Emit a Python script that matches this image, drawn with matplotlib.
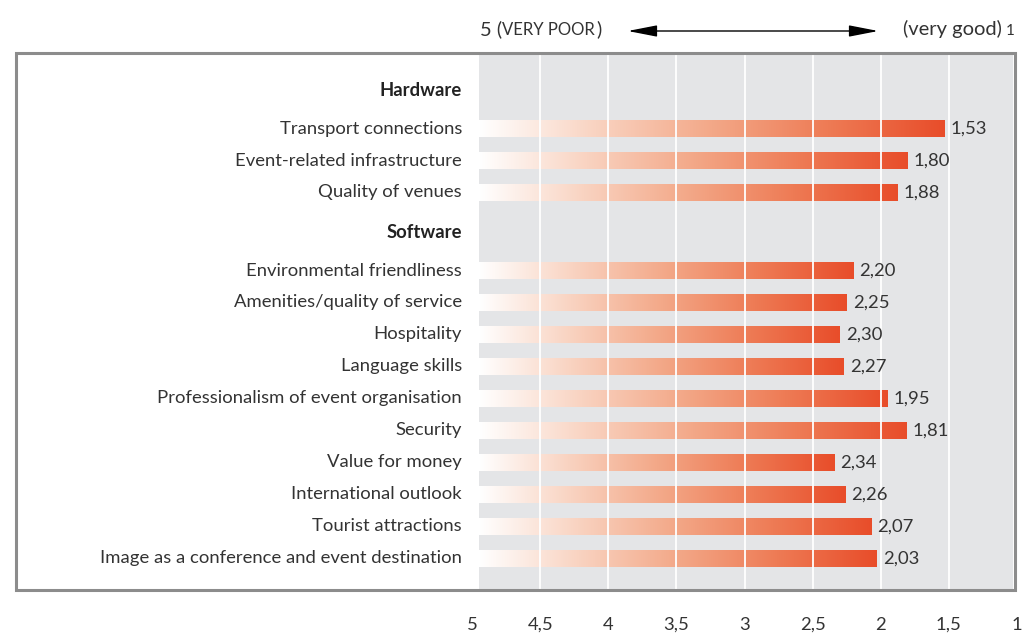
import numpy as np
import matplotlib
matplotlib.use("Agg")
import matplotlib.pyplot as plt
from matplotlib.colors import LinearSegmentedColormap
from matplotlib.patches import Rectangle, FancyArrowPatch

# ---- data -------------------------------------------------------------
hardware_labels = ["Transport connections", "Event-related infrastructure",
                   "Quality of venues"]
hardware_values = [1.53, 1.80, 1.88]

software_labels = ["Environmental friendliness", "Amenities/quality of service",
                   "Hospitality", "Language skills",
                   "Professionalism of event organisation", "Security",
                   "Value for money", "International outlook",
                   "Tourist attractions",
                   "Image as a conference and event destination"]
software_values = [2.20, 2.25, 2.30, 2.27, 1.95, 1.81, 2.34, 2.26, 2.07, 2.03]

group_titles = ["Hardware", "Software"]
tick_values = [5, 4.5, 4, 3.5, 3, 2.5, 2, 1.5, 1]
tick_labels = ["5", "4,5", "4", "3,5", "3", "2,5", "2", "1,5", "1"]

# ---- style ------------------------------------------------------------
plt.rcParams['font.family'] = ['Lato', 'DejaVu Sans']
TEXT = "#333333"
BG = "#e4e5e7"
FRAME = "#8c8c8c"
FS = 13.3
W, H = 1034, 642
cmap = LinearSegmentedColormap.from_list(
    "fade", [(0.0, "#ffffff"), (0.25, "#f9d3c1"), (0.5, "#f3a888"),
             (0.75, "#ee7b55"), (1.0, "#e84d2a")])

fig = plt.figure(figsize=(W / 100, H / 100), dpi=100)


def fx(px):
    return px / W


def fy(py):
    return 1 - py / H


# plotting area: value 5 at the left edge, 1 at the right edge
ax_left, ax_right, ax_top, ax_bot = 472, 1017, 55, 589
ax = fig.add_axes([fx(ax_left), fy(ax_bot), fx(ax_right - ax_left),
                   (ax_bot - ax_top) / H])
ax.patch.set_visible(False)
for s in ax.spines.values():
    s.set_visible(False)

# row layout: one unit per row, extra gap before each group heading
heading_gap = 1.2
group_gap = 1.44
label_rows = []
head_rows = []
cur = 0.0
for gi, (labs, vals) in enumerate([(hardware_labels, hardware_values),
                                   (software_labels, software_values)]):
    if gi > 0:
        cur += group_gap
    head_rows.append(cur - heading_gap)
    for lab, v in zip(labs, vals):
        label_rows.append((lab, v, cur))
        cur += 1.0

ymin = -2.3
ymax = label_rows[-1][2] + 0.96

# grey background band
unit_px = (ax_right - ax_left) / 4
x_bg_left = 5 - (479 - ax_left) / unit_px
x_bg_right = 1 + (ax_right - 1013) / unit_px
ax.add_patch(Rectangle((x_bg_left, ymin), x_bg_right - x_bg_left, ymax - ymin,
                       facecolor=BG, edgecolor="none", zorder=0))

# gradient bars with value labels and category labels
bar_h = 0.53
grad = np.linspace(0, 1, 256).reshape(1, -1)
lab_off = -(ax_left - 462)
for lab, v, y in label_rows:
    ax.imshow(grad, cmap=cmap, aspect="auto", interpolation="bilinear",
              extent=(x_bg_left, v, y + bar_h / 2, y - bar_h / 2), zorder=1)
    ax.annotate(f"{v:.2f}".replace(".", ","), xy=(v, y),
                xytext=(6, 0), textcoords="offset pixels",
                ha="left", va="center", fontsize=FS, color=TEXT, zorder=4)
    ax.annotate(lab, xy=(0, y), xycoords=("axes fraction", "data"),
                xytext=(lab_off, 0), textcoords="offset pixels",
                ha="right", va="center", fontsize=FS, color=TEXT)

for title, y in zip(group_titles, head_rows):
    ax.annotate(title, xy=(0, y), xycoords=("axes fraction", "data"),
                xytext=(lab_off, 0), textcoords="offset pixels",
                ha="right", va="center", fontsize=FS, color="#222222",
                fontweight="bold")

ax.set_ylim(ymax, ymin)
ax.set_xlim(5, 1)

# white vertical grid drawn on top of the bars
for t in tick_values[1:-1]:
    ax.axvline(t, color="white", lw=1.3, zorder=3)

ax.set_xticks(tick_values)
ax.set_xticklabels(tick_labels, fontsize=FS, color=TEXT)
ax.tick_params(axis="x", length=0, pad=20)
ax.set_yticks([])

# outer frame
fig.patches.append(Rectangle((fx(16), fy(590)), fx(1015 - 16), (590 - 53) / H,
                             transform=fig.transFigure, fill=False,
                             edgecolor=FRAME, lw=2.2, zorder=5))

# header: scale direction
hy = fy(29)
fig.canvas.draw()
r = fig.canvas.get_renderer()
t1 = fig.text(fx(480), hy, "5 (", fontsize=14.5, color=TEXT, va="center",
              ha="left")
bb = t1.get_window_extent(r)
t2 = fig.text(bb.x1 / W, hy - 0.002, "VERY POOR", fontsize=12, color=TEXT,
              va="center", ha="left")
bb2 = t2.get_window_extent(r)
fig.text(bb2.x1 / W + 0.001, hy, ")", fontsize=14.5, color=TEXT,
         va="center", ha="left")

t4 = fig.text(fx(1015), hy - 0.003, "1", fontsize=11, color=TEXT,
              va="center", ha="right")
bb4 = t4.get_window_extent(r)
fig.text(bb4.x0 / W - 0.004, hy, "(very good)", fontsize=14.5, color=TEXT,
         va="center", ha="right")

fig.patches.append(FancyArrowPatch(
    (fx(625), fy(31)), (fx(881), fy(31)), transform=fig.transFigure,
    arrowstyle="<|-|>,head_length=1.8,head_width=0.35", color="black",
    lw=1.0, mutation_scale=10))

fig.savefig("out.png", dpi=100, facecolor="white")
